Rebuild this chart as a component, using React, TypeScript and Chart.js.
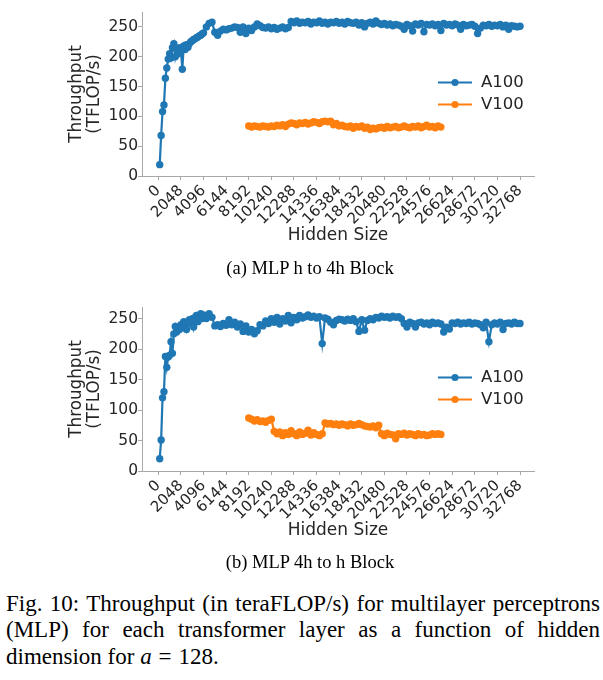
import React, { useEffect, useRef } from "react";
import { Chart, registerables } from "chart.js";

Chart.register(...registerables);

const xTickValues = [0, 2048, 4096, 6144, 8192, 10240, 12288, 14336, 16384, 18432, 20480, 22528, 24576, 26624, 28672, 30720, 32768];
const yTickValues = [0, 50, 100, 150, 200, 250];
const seriesNames = ["A100", "V100"];
const seriesColors = ["#1f77b4", "#ff7f0e"];
const xAxisTitle = "Hidden Size";
const yAxisTitle = ["Throughput", "(TFLOP/s)"];

// (a) MLP h to 4h Block  — [hidden size, TFLOP/s]
const a100HTo4h: [number, number][] = [
  [128, 19], [256, 68], [384, 108], [512, 119], [640, 164], [768, 181], [896, 196], [1024, 205],
  [1152, 198], [1280, 215], [1408, 222], [1536, 200], [1664, 212], [1792, 205], [1920, 215], [2048, 210],
  [2176, 179], [2304, 218], [2432, 212], [2560, 220], [2688, 216], [2816, 222], [2944, 225], [3072, 227],
  [3200, 229], [3328, 230], [3456, 232], [3584, 233], [3712, 235], [3840, 236], [3968, 238], [4096, 240],
  [4352, 250], [4608, 256], [4864, 258], [5120, 241], [5376, 236], [5632, 243], [5888, 246], [6144, 245],
  [6400, 247], [6656, 248], [6912, 250], [7168, 249], [7424, 241], [7680, 250], [7936, 239], [8192, 248],
  [8448, 244], [8704, 250], [8960, 255], [9216, 252], [9472, 249], [9728, 248], [9984, 250], [10240, 247],
  [10496, 249], [10752, 246], [11008, 248], [11264, 250], [11520, 247], [11776, 249], [12032, 259], [12288, 257],
  [12544, 260], [12800, 256], [13056, 258], [13312, 257], [13568, 259], [13824, 255], [14080, 258], [14336, 257],
  [14592, 260], [14848, 256], [15104, 258], [15360, 255], [15616, 258], [15872, 257], [16128, 259], [16384, 256],
  [16640, 258], [16896, 255], [17152, 259], [17408, 257], [17664, 256], [17920, 258], [18176, 253], [18432, 257],
  [18688, 250], [18944, 256], [19200, 258], [19456, 255], [19712, 260], [19968, 256], [20224, 254], [20480, 256],
  [20736, 253], [20992, 255], [21248, 252], [21504, 254], [21760, 253], [22016, 251], [22272, 246], [22528, 254],
  [22784, 252], [23040, 243], [23296, 255], [23552, 253], [23808, 256], [24064, 242], [24320, 254], [24576, 253],
  [24832, 255], [25088, 252], [25344, 254], [25600, 244], [25856, 256], [26112, 253], [26368, 254], [26624, 252],
  [26880, 255], [27136, 253], [27392, 246], [27648, 254], [27904, 252], [28160, 253], [28416, 254], [28672, 251],
  [28928, 239], [29184, 248], [29440, 253], [29696, 252], [29952, 254], [30208, 251], [30464, 253], [30720, 252],
  [30976, 254], [31232, 250], [31488, 253], [31744, 246], [32000, 252], [32256, 251], [32512, 250], [32768, 251],
];

const v100HTo4h: [number, number][] = [
  [8192, 84], [8448, 82], [8704, 84], [8960, 83], [9216, 82], [9472, 84], [9728, 83], [9984, 82],
  [10240, 84], [10496, 83], [10752, 85], [11008, 84], [11264, 86], [11520, 83], [11776, 87], [12032, 89],
  [12288, 88], [12544, 86], [12800, 89], [13056, 88], [13312, 90], [13568, 87], [13824, 89], [14080, 91],
  [14336, 90], [14592, 88], [14848, 91], [15104, 92], [15360, 91], [15616, 92], [15872, 86], [16128, 88],
  [16384, 84], [16640, 85], [16896, 83], [17152, 82], [17408, 84], [17664, 80], [17920, 83], [18176, 82],
  [18432, 84], [18688, 80], [18944, 82], [19200, 78], [19456, 80], [19712, 79], [19968, 81], [20224, 82],
  [20480, 80], [20736, 83], [20992, 81], [21248, 82], [21504, 83], [21760, 81], [22016, 82], [22272, 84],
  [22528, 82], [22784, 81], [23040, 83], [23296, 82], [23552, 84], [23808, 81], [24064, 83], [24320, 85],
  [24576, 82], [24832, 83], [25088, 81], [25344, 84], [25600, 82],
];

// (b) MLP 4h to h Block
const a100FourHToH: [number, number][] = [
  [128, 20], [256, 51], [384, 120], [512, 130], [640, 188], [768, 170], [896, 187], [1024, 190],
  [1152, 212], [1280, 193], [1408, 225], [1536, 237], [1664, 228], [1792, 236], [1920, 232], [2048, 240],
  [2176, 235], [2304, 245], [2432, 240], [2560, 232], [2688, 244], [2816, 248], [2944, 242], [3072, 250],
  [3200, 236], [3328, 248], [3456, 255], [3584, 245], [3712, 252], [3840, 258], [3968, 250], [4096, 256],
  [4352, 250], [4608, 258], [4864, 252], [5120, 238], [5376, 240], [5632, 237], [5888, 242], [6144, 239],
  [6400, 248], [6656, 240], [6912, 244], [7168, 236], [7424, 241], [7680, 229], [7936, 238], [8192, 228],
  [8448, 232], [8704, 225], [8960, 230], [9216, 240], [9472, 238], [9728, 246], [9984, 242], [10240, 250],
  [10496, 244], [10752, 252], [11008, 241], [11264, 250], [11520, 246], [11776, 255], [12032, 243], [12288, 252],
  [12544, 248], [12800, 255], [13056, 251], [13312, 253], [13568, 256], [13824, 252], [14080, 254], [14336, 251],
  [14592, 253], [14848, 209], [15104, 251], [15360, 249], [15616, 244], [15872, 240], [16128, 247], [16384, 249],
  [16640, 248], [16896, 246], [17152, 249], [17408, 247], [17664, 250], [17920, 245], [18176, 229], [18432, 248],
  [18688, 231], [18944, 247], [19200, 250], [19456, 248], [19712, 252], [19968, 251], [20224, 254], [20480, 252],
  [20736, 253], [20992, 251], [21248, 254], [21504, 252], [21760, 253], [22016, 250], [22272, 242], [22528, 236],
  [22784, 244], [23040, 242], [23296, 236], [23552, 243], [23808, 244], [24064, 241], [24320, 243], [24576, 240],
  [24832, 244], [25088, 242], [25344, 243], [25600, 241], [25856, 228], [26112, 236], [26368, 233], [26624, 243],
  [26880, 242], [27136, 244], [27392, 241], [27648, 243], [27904, 242], [28160, 244], [28416, 241], [28672, 243],
  [28928, 242], [29184, 240], [29440, 235], [29696, 244], [29952, 212], [30208, 240], [30464, 243], [30720, 241],
  [30976, 244], [31232, 232], [31488, 242], [31744, 243], [32000, 241], [32256, 244], [32512, 242], [32768, 242],
];

const v100FourHToH: [number, number][] = [
  [8192, 87], [8448, 85], [8704, 82], [8960, 84], [9216, 81], [9472, 82], [9728, 80], [9984, 83],
  [10240, 85], [10496, 65], [10752, 61], [11008, 64], [11264, 58], [11520, 63], [11776, 60], [12032, 66],
  [12288, 61], [12544, 58], [12800, 64], [13056, 60], [13312, 62], [13568, 67], [13824, 59], [14080, 63],
  [14336, 60], [14592, 58], [14848, 61], [15104, 79], [15360, 77], [15616, 78], [15872, 76], [16128, 77],
  [16384, 75], [16640, 77], [16896, 76], [17152, 74], [17408, 77], [17664, 75], [17920, 76], [18176, 78],
  [18432, 76], [18688, 74], [18944, 73], [19200, 72], [19456, 74], [19712, 71], [19968, 75], [20224, 61],
  [20480, 58], [20736, 62], [20992, 60], [21248, 59], [21504, 53], [21760, 61], [22016, 60], [22272, 62],
  [22528, 59], [22784, 61], [23040, 60], [23296, 58], [23552, 61], [23808, 59], [24064, 60], [24320, 58],
  [24576, 59], [24832, 61], [25088, 60], [25344, 61], [25600, 60],
];

const FONT = '"DejaVu Sans", sans-serif';
const TEXT = "#262626";
const AXIS = "#a8a8a8";

type PanelProps = { a100: [number, number][]; v100: [number, number][]; yMax: number; top: number };

function Panel({ a100, v100, yMax, top }: PanelProps) {
  const ref = useRef<HTMLCanvasElement>(null);
  useEffect(() => {
    const legendPlugin = {
      id: "insideLegend",
      afterDatasetsDraw(chart: any) {
        const { ctx, chartArea } = chart;
        ctx.save();
        chart.data.datasets.forEach((ds: any, i: number) => {
          const y = chartArea.top + 70.5 + i * 22;
          const x0 = chartArea.left + 296;
          const x1 = chartArea.left + 330;
          ctx.strokeStyle = ds.borderColor;
          ctx.lineWidth = 2;
          ctx.beginPath();
          ctx.moveTo(x0, y);
          ctx.lineTo(x1, y);
          ctx.stroke();
          ctx.fillStyle = ds.borderColor;
          ctx.beginPath();
          ctx.arc((x0 + x1) / 2, y, 3.6, 0, Math.PI * 2);
          ctx.fill();
          ctx.fillStyle = TEXT;
          ctx.font = `16.5px ${FONT}`;
          ctx.textBaseline = "middle";
          ctx.textAlign = "left";
          ctx.fillText(ds.label, chartArea.left + 339, y);
        });
        ctx.restore();
      },
    };
    const mk = (i: number, pts: [number, number][]) => ({
      label: seriesNames[i],
      data: pts.map(([x, y]) => ({ x, y })),
      borderColor: seriesColors[i],
      backgroundColor: seriesColors[i],
      pointBackgroundColor: seriesColors[i],
      pointBorderWidth: 0,
      pointRadius: 3.7,
      borderWidth: 2.2,
      tension: 0,
    });
    const chart = new Chart(ref.current as HTMLCanvasElement, {
      type: "line",
      data: { datasets: [mk(0, a100), mk(1, v100)] },
      options: {
        animation: false,
        responsive: false,
        devicePixelRatio: 1,
        events: [],
        layout: { padding: { left: 68.5, top: 12, right: 69, bottom: 0 } },
        plugins: { legend: { display: false }, tooltip: { enabled: false } },
        scales: {
          x: {
            type: "linear",
            min: -1477,
            max: 34036,
            afterBuildTicks: (s: any) => {
              s.ticks = xTickValues.map((v) => ({ value: v }));
            },
            afterFit: (s: any) => {
              s.height = 84;
            },
            grid: { drawOnChartArea: false, drawTicks: true, tickLength: 4, color: AXIS },
            border: { display: true, color: AXIS, width: 1 },
            ticks: {
              autoSkip: false,
              minRotation: 45,
              maxRotation: 45,
              padding: 2,
              color: TEXT,
              font: { family: FONT, size: 15 },
              callback: (v: any) => String(v),
            },
            title: {
              display: true,
              text: xAxisTitle,
              color: TEXT,
              font: { family: FONT, size: 17, lineHeight: 1.2 },
              padding: { top: 0, bottom: 14 },
            },
          },
          y: {
            type: "linear",
            min: 0,
            max: yMax,
            afterBuildTicks: (s: any) => {
              s.ticks = yTickValues.map((v) => ({ value: v }));
            },
            afterFit: (s: any) => {
              s.width = 73.5;
            },
            grid: { drawOnChartArea: false, drawTicks: true, tickLength: 4, color: AXIS },
            border: { display: true, color: AXIS, width: 1 },
            ticks: { padding: 0, color: TEXT, font: { family: FONT, size: 15.5 }, callback: (v: any) => String(v) },
            title: {
              display: true,
              text: yAxisTitle,
              color: TEXT,
              font: { family: FONT, size: 16.8, lineHeight: 1.02 },
              padding: { top: 0, bottom: 0 },
            },
          },
        },
      } as any,
      plugins: [legendPlugin],
    });
    return () => chart.destroy();
  }, []);
  return (
    <canvas
      ref={ref}
      width={603}
      height={260}
      style={{ position: "absolute", left: 0, top, width: 603, height: 260 }}
    />
  );
}

const serif = '"Liberation Serif", "Times New Roman", serif';

export default function App() {
  const line: React.CSSProperties = {
    textAlign: "justify",
    textAlignLast: "justify",
    height: 26.5,
    whiteSpace: "normal",
  };
  return (
    <div style={{ position: "absolute", left: 0, top: 0, width: 603, height: 680, background: "#fff", overflow: "hidden", color: "#000" }}>
      <Panel a100={a100HTo4h} v100={v100HTo4h} yMax={275} top={0} />
      <div style={{ position: "absolute", left: 0, top: 257, width: 620, textAlign: "center", font: `18.5px/22px ${serif}` }}>
        (a) MLP h to 4h Block
      </div>
      <Panel a100={a100FourHToH} v100={v100FourHToH} yMax={269} top={295} />
      <div style={{ position: "absolute", left: 0, top: 551, width: 620, textAlign: "center", font: `18.5px/22px ${serif}` }}>
        (b) MLP 4h to h Block
      </div>
      <div style={{ position: "absolute", left: 6, top: 590.75, width: 594, font: `23px/26.5px ${serif}` }}>
        <div style={line}>Fig. 10: Throughput (in teraFLOP/s) for multilayer perceptrons</div>
        <div style={line}>(MLP) for each transformer layer as a function of hidden</div>
        <div style={{ height: 26.5, whiteSpace: "nowrap" }}>
          dimension for <i>a</i>
          <span style={{ margin: "0 0.3em" }}>=</span>128.
        </div>
      </div>
    </div>
  );
}
